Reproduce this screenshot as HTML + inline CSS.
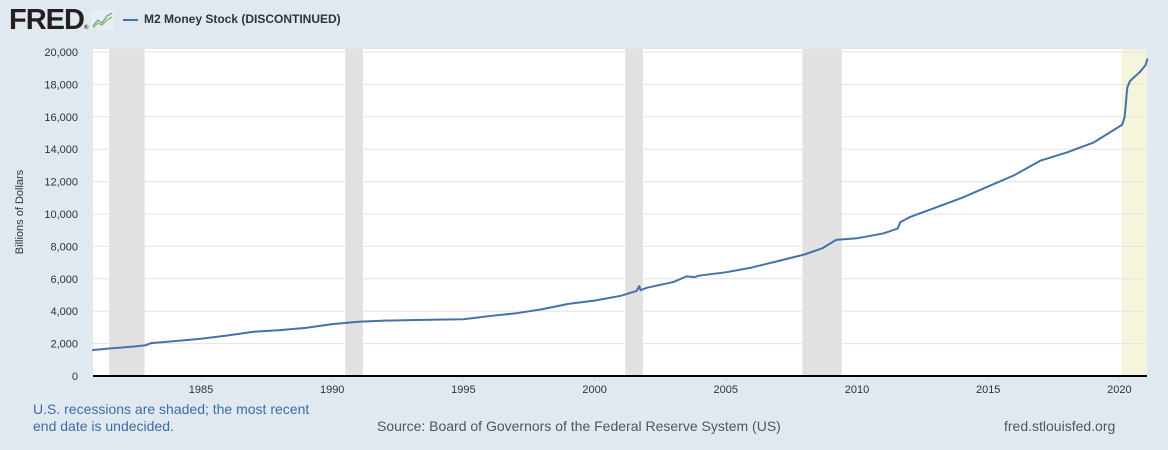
<!DOCTYPE html>
<html><head><meta charset="utf-8"><style>
body{margin:0;width:1168px;height:450px;background:#e1e9f0;font-family:"Liberation Sans",sans-serif;overflow:hidden;position:relative}
.t{position:absolute;white-space:nowrap}
</style></head><body>
<div class="t" style="left:9px;top:4px;font-size:29px;font-weight:bold;color:#231f20;letter-spacing:-1px">FRED<span style="font-size:6px">®</span></div>
<svg style="position:absolute;left:91px;top:10px" width="23" height="20"><rect width="23" height="20" fill="#e8eef2"/><polyline points="2,16 7,10 11,13 16,6 21,3" fill="none" stroke="#6a9ec6" stroke-width="1.3"/><polyline points="2,18 7,13 11,15 16,10 21,7" fill="none" stroke="#8bbd3f" stroke-width="1.3"/></svg>
<div style="position:absolute;left:123px;top:19px;width:15px;height:2px;background:#4572a7"></div>
<div class="t" style="left:144px;top:12px;font-size:12px;font-weight:bold;color:#333">M2 Money Stock (DISCONTINUED)</div>
<svg id="c" width="1168" height="450" style="position:absolute;left:0;top:0"></svg>
<div class="t" style="left:33px;top:401px;font-size:14px;line-height:17px;color:#3c6ca8">U.S. recessions are shaded; the most recent<br>end date is undecided.</div>
<div class="t" style="left:377px;top:418px;font-size:14px;color:#555">Source: Board of Governors of the Federal Reserve System (US)</div>
<div class="t" style="left:1004px;top:418px;font-size:14px;color:#555">fred.stlouisfed.org</div>
<script>
const years=[1980.85,1981.5,1982.5,1982.9,1983.1,1984,1985,1986,1987,1988,1989,1990,1991,1992,1993,1994,1995,1996,1997,1998,1999,2000,2001,2001.6,2001.7,2001.75,2002,2003,2003.5,2003.8,2004,2005,2006,2007,2008,2008.7,2008.9,2009.2,2010,2011,2011.55,2011.65,2012,2013,2014,2015,2016,2017,2018,2019,2020,2020.1,2020.2,2020.3,2020.4,2020.6,2020.8,2021,2021.07];
const values=[1600,1700,1830,1900,2030,2150,2300,2500,2730,2830,2970,3200,3350,3420,3450,3480,3500,3700,3870,4120,4450,4650,4950,5250,5550,5300,5450,5800,6150,6100,6200,6400,6700,7100,7500,7900,8100,8400,8500,8800,9100,9500,9800,10400,11000,11700,12400,13300,13800,14400,15400,15500,16000,17800,18200,18500,18800,19200,19600];
const recessions=[[1981.5,1982.85],[1990.5,1991.17],[2001.17,2001.84],[2007.92,2009.42]];
const yTicks=[0,2000,4000,6000,8000,10000,12000,14000,16000,18000,20000];
const xTicks=[1985,1990,1995,2000,2005,2010,2015,2020];
const L=93,R=1147,T=49,B=376;
const x=v=>201+(v-1985)*26.24;
const y=v=>376-v*0.0162;
const s=document.getElementById('c'),NS='http://www.w3.org/2000/svg';
function mk(t,a){const e=document.createElementNS(NS,t);for(const k in a)e.setAttribute(k,a[k]);s.appendChild(e);return e;}
let e=mk('rect',{x:L,y:T,width:R-L,height:B-T,fill:'#fff'});

recessions.forEach(r=>{const el=mk('rect',{x:x(r[0]),y:T,width:x(r[1])-x(r[0]),height:B-T,fill:'#e1e1e1'});
});
e=mk('rect',{x:x(2020.08),y:T,width:R-x(2020.08),height:B-T,fill:'#f5f4dc'});

yTicks.forEach(v=>{if(v>0){const g=mk('line',{x1:L,x2:R,y1:y(v),y2:y(v),stroke:'#e3e3e3'});
}
const t=mk('text',{x:78,y:y(v)+4,'text-anchor':'end','font-size':11,fill:'#333','font-family':'Liberation Sans'});t.textContent=v.toLocaleString('en-US');
});
xTicks.forEach(v=>{const k=mk('line',{x1:x(v),x2:x(v),y1:B,y2:B+5,stroke:'#ccd6eb'});

const t=mk('text',{x:x(v),y:B+17,'text-anchor':'middle','font-size':11,fill:'#333','font-family':'Liberation Sans'});t.textContent=v;
});
e=mk('line',{x1:L,x2:R,y1:B,y2:B,stroke:'#000','stroke-width':2});

e=mk('text',{x:0,y:0,transform:'translate(23,212) rotate(-90)','text-anchor':'middle','font-size':11,fill:'#333','font-family':'Liberation Sans'});e.textContent='Billions of Dollars';

e=mk('polyline',{points:years.map((v,i)=>x(v)+','+y(values[i])).join(' '),fill:'none',stroke:'#4572a7','stroke-width':2,'stroke-linejoin':'round'});

</script>
</body></html>
